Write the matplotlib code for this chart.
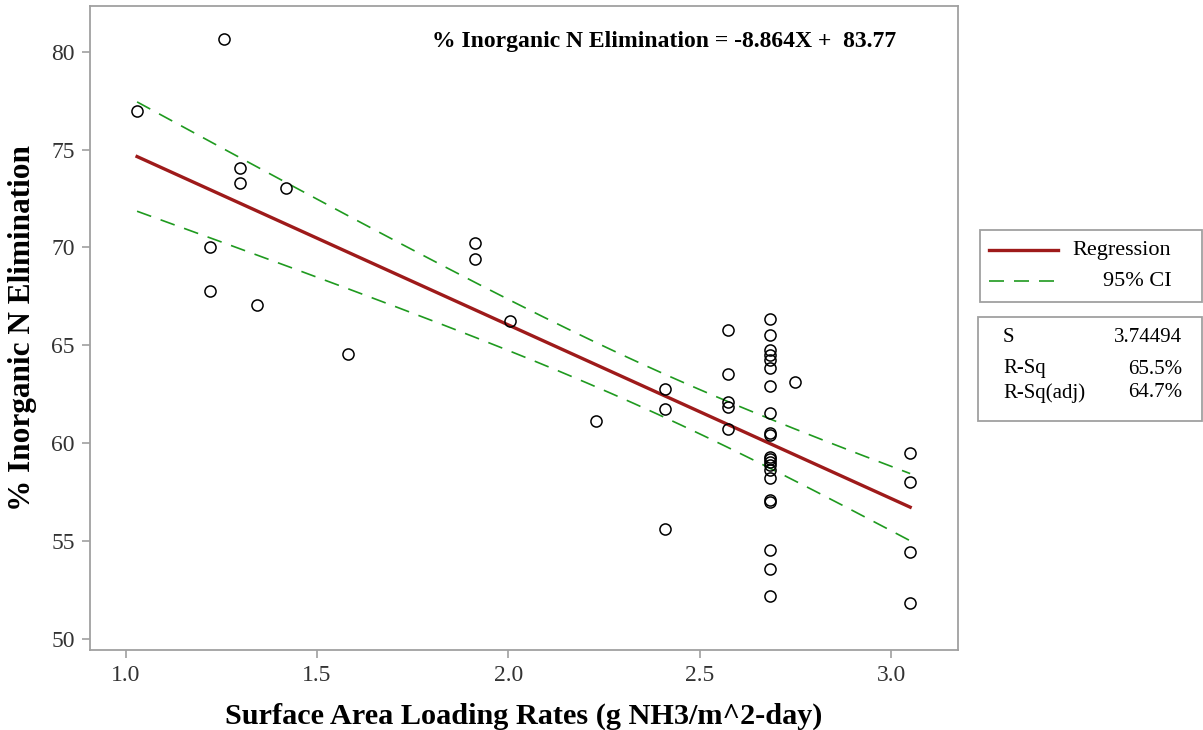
import numpy as np
import matplotlib
matplotlib.use("Agg")
import matplotlib.pyplot as plt
from matplotlib.patches import Rectangle
from matplotlib.lines import Line2D

# ---- data ----
x_vals = [1.03, 1.257, 1.22, 1.22, 1.30, 1.30, 1.344, 1.418, 1.581,
          1.914, 1.914, 2.005, 2.229, 2.41, 2.41, 2.41,
          2.575, 2.575, 2.575, 2.575, 2.575, 2.75,
          2.684, 2.684, 2.684, 2.684, 2.684, 2.684, 2.684, 2.684, 2.684, 2.684, 2.684,
          2.684, 2.684, 2.684, 2.684, 2.684, 2.684, 2.684, 2.684, 2.684, 2.684,
          3.05, 3.05, 3.05, 3.05]
y_vals = [76.97, 80.64, 70.04, 67.79, 74.07, 73.29, 67.04, 73.02, 64.56,
          70.21, 69.42, 66.26, 61.12, 62.75, 61.73, 55.62,
          65.76, 63.55, 62.13, 61.85, 60.72, 63.12,
          66.34, 65.52, 64.75, 64.50, 64.25, 63.83, 62.92, 61.53, 60.51, 60.40, 59.30,
          59.20, 59.06, 58.89, 58.63, 58.21, 57.10, 57.00, 54.55, 53.60, 52.20,
          59.49, 58.04, 54.43, 51.86]
slope = -8.864
intercept = 83.77
s_value = 3.74494
t_crit = 2.0141
x_ticks = [1.0, 1.5, 2.0, 2.5, 3.0]
y_ticks = [50, 55, 60, 65, 70, 75, 80]
stats_labels = ["S", "R-Sq", "R-Sq(adj)"]
stats_values = ["3.74494", "65.5%", "64.7%"]
equation = "% Inorganic N Elimination = -8.864X +  83.77"

W, H = 1203, 730
fig = plt.figure(figsize=(W / 100, H / 100), dpi=100)
fig.patch.set_facecolor("white")

def fx(px):
    return px / W

def fy(py):
    return 1 - py / H

ax = fig.add_axes([fx(90), fy(650), fx(958) - fx(90), fy(6) - fy(650)])
serif = ["Liberation Serif", "DejaVu Serif"]
gray = "#a0a0a0"

xa = np.array(x_vals)
ya = np.array(y_vals)
n = len(xa)
xbar = xa.mean()
sxx = ((xa - xbar) ** 2).sum()
xx = np.linspace(xa.min(), xa.max(), 200)
yy = intercept + slope * xx
half = t_crit * s_value * np.sqrt(1 / n + (xx - xbar) ** 2 / sxx)

ax.plot(xx, yy + half, color="#1f9a1f", lw=1.2, dashes=(9, 6), zorder=2)
ax.plot(xx, yy - half, color="#1f9a1f", lw=1.2, dashes=(9, 6), zorder=2)
ax.plot(xx, yy, color="#9e1a1a", lw=2.4, zorder=3)
ax.plot(xa, ya, linestyle="none", marker="o", markersize=8, markerfacecolor="none",
        markeredgecolor="black", markeredgewidth=1.1, zorder=4)

ax.set_xlim(0.907, 3.175)
ax.set_ylim(49.44, 82.33)
ax.set_xticks(x_ticks)
ax.set_xticklabels([f"{v:.1f}" for v in x_ticks])
ax.set_yticks(y_ticks)
ax.set_yticklabels([str(v) for v in y_ticks])
for sp in ax.spines.values():
    sp.set_color(gray)
    sp.set_linewidth(1.3)
ax.tick_params(axis="both", direction="out", length=6, width=1.2, color=gray,
               labelsize=17, pad=5)
for lab in ax.get_xticklabels() + ax.get_yticklabels():
    lab.set_family(serif)
    lab.set_color("#333333")

ax.set_xlabel("Surface Area Loading Rates (g NH3/m^2-day)", family=serif,
              fontweight="bold", fontsize=21.8, labelpad=12)
ax.set_ylabel("% Inorganic N Elimination", family=serif, fontweight="bold",
              fontsize=22.5, labelpad=10)

fig.text(fx(432), fy(42), equation, family=serif, fontweight="bold", fontsize=17,
         ha="left", va="center")

# legend box
fig.patches.append(Rectangle((fx(980), fy(302)), fx(1202) - fx(980), fy(230) - fy(302),
                             transform=fig.transFigure, facecolor="white",
                             edgecolor=gray, lw=1.3))
fig.lines.append(Line2D([fx(989), fx(1058)], [fy(250), fy(250)], transform=fig.transFigure,
                        color="#9e1a1a", lw=2.4))
fig.lines.append(Line2D([fx(989), fx(1058)], [fy(281), fy(281)], transform=fig.transFigure,
                        color="#1f9a1f", lw=1.2, dashes=(9, 6)))
fig.text(fx(1072), fy(250), "Regression", family=serif, fontsize=16, ha="left", va="center")
fig.text(fx(1172), fy(281), "95% CI", family=serif, fontsize=16, ha="right", va="center")

# stats box
fig.patches.append(Rectangle((fx(978), fy(421)), fx(1202) - fx(978), fy(317) - fy(421),
                             transform=fig.transFigure, facecolor="white",
                             edgecolor=gray, lw=1.3))
for lbl, val, py in zip(stats_labels, stats_values, [338, 369, 393]):
    fig.text(fx(1003), fy(py), lbl, family=serif, fontsize=15, ha="left", va="center")
    fig.text(fx(1182), fy(py), val, family=serif, fontsize=15, ha="right", va="center")

fig.savefig("out.png", dpi=100, facecolor="white")
